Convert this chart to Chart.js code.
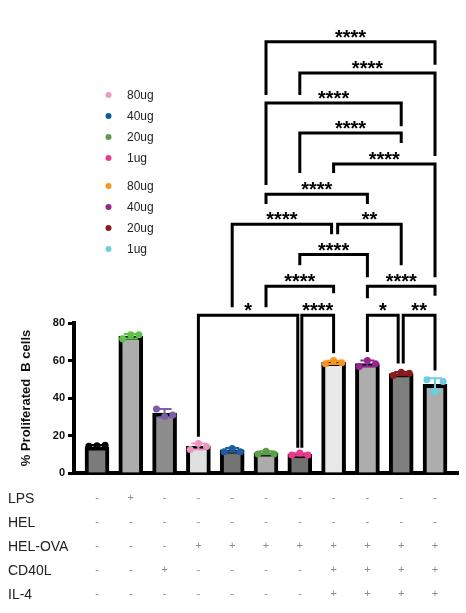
<!DOCTYPE html>
<html><head><meta charset="utf-8">
<script src="https://cdn.jsdelivr.net/npm/chart.js@4/dist/chart.umd.min.js"></script>
<style>html,body{margin:0;padding:0;background:#fff;overflow:hidden}#wrap{width:466px;height:613px}</style>
</head><body><div id="wrap"><canvas id="c" width="466" height="613"></canvas></div>
<script>
// ---- data ----
const categories = ['Media','LPS','CD40L','HEL-OVA 80ug','HEL-OVA 40ug','HEL-OVA 20ug','HEL-OVA 1ug',
  'HEL-OVA 80ug +CD40L/IL-4','HEL-OVA 40ug +CD40L/IL-4','HEL-OVA 20ug +CD40L/IL-4','HEL-OVA 1ug +CD40L/IL-4'];
const barValues = [14, 73, 32, 14.2, 12.3, 10.8, 10, 59, 58.4, 53, 47.3];
const rep1 = [14.3, 71.6, 34.2, 12.5, 11.4, 10.2, 9.6, 58.3, 56.8, 52.0, 49.7];
const rep2 = [14.6, 73.8, 30.1, 15.8, 13.1, 11.6, 10.7, 60.0, 60.0, 53.8, 43.4];
const rep3 = [14.8, 73.8, 31.0, 14.2, 11.4, 10.2, 9.6, 58.8, 58.3, 53.2, 48.8];
const sdValues = [1.0, 1.2, 2.2, 1.6, 1.0, 0.8, 0.6, 0.9, 1.6, 0.9, 3.3];
const yTicks = [0, 20, 40, 60, 80];
const yTitle = '% Proliferated  B cells';

const legendLabels = ['80ug','40ug','20ug','1ug','80ug','40ug','20ug','1ug'];
const legendColors = ['#ea9cc6','#0e5a9e','#5c9d4b','#ea3b91','#f7941d','#93288f','#8c1c1f','#6ccfe1'];

const rowLabels = ['LPS','HEL','HEL-OVA','CD40L','IL-4'];
const rowLPS    = ['-','+','-','-','-','-','-','-','-','-','-'];
const rowHEL    = ['-','-','-','-','-','-','-','-','-','-','-'];
const rowHELOVA = ['-','-','-','+','+','+','+','+','+','+','+'];
const rowCD40L  = ['-','-','+','-','-','-','-','+','+','+','+'];
const rowIL4    = ['-','-','-','-','-','-','-','+','+','+','+'];

// significance brackets (x in category index, y in data units)
const brFrom  = [5, 6, 5, 6, 7, 5, 4, 7.12, 6, 5, 8, 3, 6.06, 8, 9.06];
const brTo    = [10, 10, 9, 9, 10, 8, 6.94, 9, 8, 7, 10, 5.94, 7, 8.91, 10];
const brTop   = [230, 213.4, 197.4, 181.3, 164.8, 148.7, 132.7, 132.7, 116.5, 99.6, 99.6, 84.1, 84.1, 84.1, 84.1];
const brLeftEnd  = [201.6, 201.6, 153.6, 160.0, 160.0, 143.5, 88.4, 127.4, 110.8, 88.4, 93.2, 19.4, 13.5, 64.5, 58.4];
const brRightEnd = [217.7, 169.1, 185.0, 176.0, 104.4, 143.5, 127.4, 110.8, 104.4, 95.9, 94.6, 13.5, 63.9, 58.4, 54.7];
const brLabels = ['****','****','****','****','****','****','****','**','****','****','****','*','****','*','**'];

// ---- styles ----
const barColors = ['#7b7b7b','#adadad','#8d8d8d','#e0e0e0','#737373','#ababab','#717171','#e8e8e8','#adadad','#7e7e7e','#adadad'];
const dotColors = ['#000000','#5fc24a','#7d5ca8','#ee93c2','#1c5ea6','#5c9e4a','#e83a8e','#f7941d','#94278f','#8b1a1a','#6ccde0'];
const FONT = '"Liberation Sans", Arial, sans-serif';

const offsets = [-0.24, 0, 0.24];
const pts = [], ptCols = [];
[rep1, rep2, rep3].forEach((rep, k) => rep.forEach((v, i) => { pts.push({x: i + offsets[k], y: v}); ptCols.push(dotColors[i]); }));

const errorBars = {
  id: 'errorBars',
  afterDatasetDraw(chart, args) {
    if (args.index !== 0) return;
    const {ctx, scales: {x, y}} = chart;
    ctx.save();
    ctx.lineWidth = 2;
    sdValues.forEach((sd, i) => {
      const px = x.getPixelForValue(i);
      const y1 = y.getPixelForValue(barValues[i] + sd), y0 = y.getPixelForValue(barValues[i] - sd);
      ctx.strokeStyle = dotColors[i];
      ctx.beginPath();
      ctx.moveTo(px, y0); ctx.lineTo(px, y1);
      ctx.moveTo(px - 7, y1); ctx.lineTo(px + 7, y1);
      ctx.moveTo(px - 7, y0); ctx.lineTo(px + 7, y0);
      ctx.stroke();
    });
    ctx.restore();
  }
};

const extras = {
  id: 'extras',
  afterDraw(chart) {
    const {ctx, scales: {x, y}} = chart;
    ctx.save();
    // brackets
    ctx.strokeStyle = '#000'; ctx.lineWidth = 3; ctx.lineJoin = 'miter'; ctx.lineCap = 'butt';
    ctx.fillStyle = '#000';
    ctx.font = 'bold 20px ' + FONT; ctx.textAlign = 'center'; ctx.textBaseline = 'alphabetic';
    brFrom.forEach((f, k) => {
      const x1 = x.getPixelForValue(f), x2 = x.getPixelForValue(brTo[k]);
      const yt = y.getPixelForValue(brTop[k]);
      ctx.beginPath();
      ctx.moveTo(x1, y.getPixelForValue(brLeftEnd[k]));
      ctx.lineTo(x1, yt); ctx.lineTo(x2, yt);
      ctx.lineTo(x2, y.getPixelForValue(brRightEnd[k]));
      ctx.stroke();
      ctx.fillText(brLabels[k], (x1 + x2) / 2, yt + 2);
    });
    // legend
    ctx.textAlign = 'left'; ctx.textBaseline = 'middle';
    ctx.font = '12px ' + FONT;
    legendLabels.forEach((lab, k) => {
      const ly = k < 4 ? 95 + k * 21 : 186 + (k - 4) * 21;
      ctx.fillStyle = legendColors[k];
      ctx.beginPath(); ctx.arc(108.5, ly, 3, 0, Math.PI * 2); ctx.fill();
      ctx.fillStyle = '#222';
      ctx.fillText(lab, 127, ly + 1);
    });
    // condition table
    const rows = [rowLPS, rowHEL, rowHELOVA, rowCD40L, rowIL4];
    rows.forEach((row, r) => {
      const ry = 499.5 + r * 24;
      ctx.textAlign = 'left'; ctx.fillStyle = '#222'; ctx.font = '14px ' + FONT;
      ctx.fillText(rowLabels[r], 8, ry);
      ctx.textAlign = 'center'; ctx.fillStyle = '#8a8a8a'; ctx.font = '11px ' + FONT;
      row.forEach((s, i) => ctx.fillText(s, x.getPixelForValue(i), ry - 2));
    });
    ctx.restore();
  }
};

new Chart(document.getElementById('c'), {
  type: 'bar',
  data: {
    labels: categories,
    datasets: [
      { type: 'bar', data: barValues.map((v, i) => ({x: i, y: v})), backgroundColor: barColors,
        borderColor: '#000', borderWidth: 4, barThickness: 24, order: 2 },
      { type: 'scatter', data: pts, pointBackgroundColor: ptCols, pointBorderColor: ptCols,
        pointRadius: 3.5, pointBorderWidth: 0, order: 1 }
    ]
  },
  options: {
    responsive: false, animation: false, devicePixelRatio: 1,
    layout: {padding: {top: 323, right: 8, left: 0, bottom: 0}},
    plugins: {legend: {display: false}, tooltip: {enabled: false}},
    scales: {
      x: { type: 'linear', min: -0.68, max: 10.68, offset: false,
        grid: {display: false}, ticks: {display: false},
        border: {display: true, width: 4, color: '#000'},
        afterFit(s) { s.height = 140; } },
      y: { min: 0, max: 80,
        afterBuildTicks(s) { s.ticks = yTicks.map(v => ({value: v})); },
        ticks: {color: '#111', padding: 3, font: {family: FONT, weight: 'bold', size: 11}},
        grid: {drawOnChartArea: false, drawTicks: true, tickLength: 6, tickWidth: 3, tickColor: '#000', color: '#000'},
        border: {display: true, width: 4, color: '#000'},
        title: {display: true, text: yTitle, color: '#111', padding: {top: 19, bottom: 0},
          font: {family: FONT, weight: 'bold', size: 13}},
        afterFit(s) { s.width = 74; } }
    }
  },
  plugins: [errorBars, extras]
});
</script></body></html>
